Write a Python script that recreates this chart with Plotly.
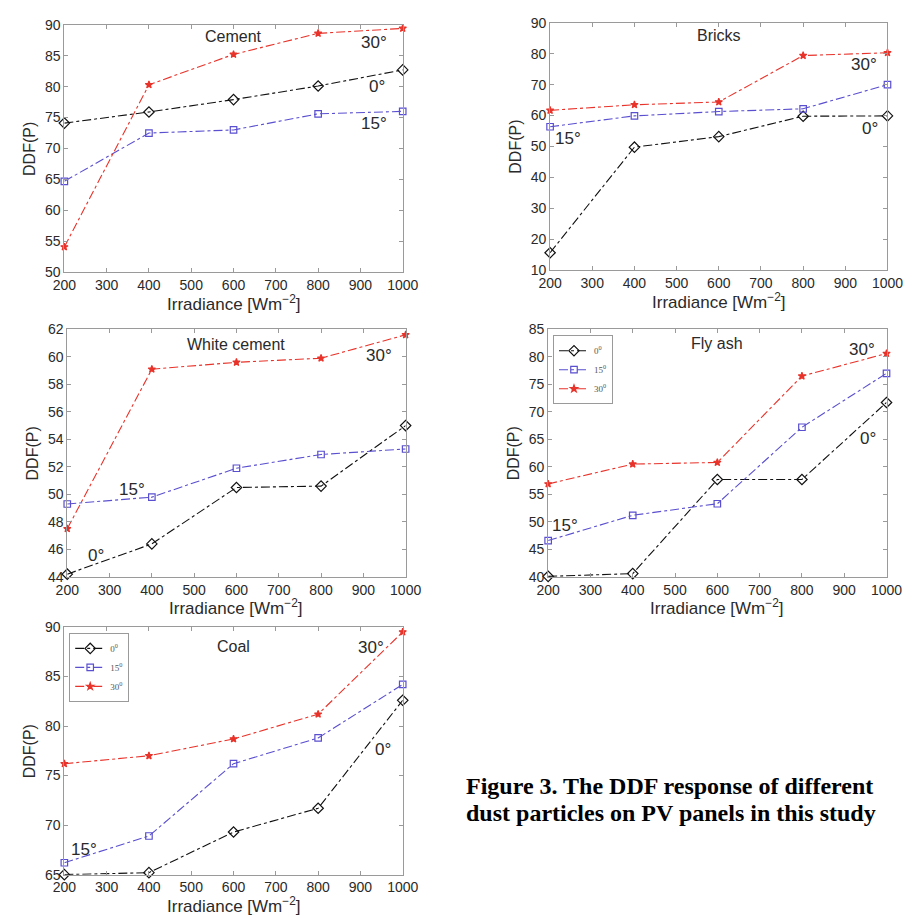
import plotly.graph_objects as go

W, H = 919, 918

irradiance = [200, 400, 600, 800, 1000]
x_ticks = [200, 300, 400, 500, 600, 700, 800, 900, 1000]

cement_0 = [74.1, 75.9, 77.9, 80.1, 82.7]
cement_15 = [64.7, 72.5, 73.0, 75.6, 76.0]
cement_30 = [54.1, 80.3, 85.2, 88.6, 89.4]

bricks_0 = [15.7, 49.8, 53.2, 59.8, 59.9]
bricks_15 = [56.4, 59.9, 61.3, 62.2, 70.0]
bricks_30 = [61.7, 63.5, 64.4, 79.4, 80.3]

white_0 = [44.2, 46.4, 50.5, 50.6, 55.0]
white_15 = [49.3, 49.8, 51.9, 52.9, 53.3]
white_30 = [47.5, 59.1, 59.6, 59.9, 61.6]

flyash_0 = [40.1, 40.6, 57.7, 57.7, 71.7]
flyash_15 = [46.6, 51.2, 53.3, 67.2, 77.0]
flyash_30 = [56.9, 60.5, 60.8, 76.5, 80.6]

coal_0 = [65.0, 65.2, 69.3, 71.7, 82.6]
coal_15 = [66.2, 68.9, 76.2, 78.8, 84.2]
coal_30 = [76.2, 77.0, 78.7, 81.2, 89.5]

angle_names = ["0<sup>0</sup>", "15<sup>0</sup>", "30<sup>0</sup>"]
angle_labels = ["0°", "15°", "30°"]

SANS = "Liberation Sans, Arial, Helvetica, sans-serif"
SERIF = "Liberation Serif, Times New Roman, serif"
TXT = "#2a2a2a"
AX = "#9a9a9a"

series_style = [
    dict(color="#111111", symbol="diamond-open", size=8),
    dict(color="#5a4fcf", symbol="square-open", size=6.5),
    dict(color="#e8332a", symbol="star", size=5.5),
]

# panel: title, series, yrange, dtick, box (l, r, top, bottom px), title offset,
# label positions (px) for 0,15,30, legend id
panels = [
    dict(title="Cement", ys=[cement_0, cement_15, cement_30], yr=[50, 90], dt=5,
         box=(54, 403, 17, 269), toff=12,
         lab=[(376, 80), (373, 118), (373, 35)], legend=None),
    dict(title="Bricks", ys=[bricks_0, bricks_15, bricks_30], yr=[10, 90], dt=10,
         box=(555, 903, 15, 267), toff=13,
         lab=[(885, 123), (573, 133), (879, 58)], legend=None),
    dict(title="White cement", ys=[white_0, white_15, white_30], yr=[44, 62], dt=2,
         box=(57, 406, 327, 579), toff=15,
         lab=[(87, 557), (124, 490), (379, 354)], legend=None),
    dict(title="Fly ash", ys=[flyash_0, flyash_15, flyash_30], yr=[40, 85], dt=5,
         box=(553, 902, 327, 579), toff=14,
         lab=[(883, 438), (570, 527), (877, 348)], legend="legend"),
    dict(title="Coal", ys=[coal_0, coal_15, coal_30], yr=[65, 90], dt=5,
         box=(54, 403, 630, 882), toff=20,
         lab=[(383, 755), (74, 856), (370, 651)], legend="legend2"),
]


def px(x):
    return x / W


def py(y):
    return 1 - y / H


fig = go.Figure()
annotations = []
layout_axes = {}

for i, p in enumerate(panels):
    n = i + 1
    xa = "x" if n == 1 else f"x{n}"
    ya = "y" if n == 1 else f"y{n}"
    l, r, t, b = p["box"]
    for k, ys in enumerate(p["ys"]):
        st = series_style[k]
        tr = dict(
            x=irradiance, y=ys, xaxis=xa, yaxis=ya, mode="lines+markers",
            name=angle_names[k], cliponaxis=False,
            line=dict(color=st["color"], width=1.1, dash="dashdot"),
            marker=dict(symbol=st["symbol"], size=st["size"], color=st["color"],
                        line=dict(color=st["color"], width=1.2)),
            showlegend=p["legend"] is not None,
        )
        if p["legend"] is not None:
            tr["legend"] = p["legend"]
        fig.add_trace(go.Scatter(**tr))

    axcommon = dict(
        showgrid=False, zeroline=False, showline=True, linecolor=AX, linewidth=1,
        mirror="ticks", ticks="inside", ticklen=4, tickcolor=AX,
        tickfont=dict(family=SANS, size=14, color=TXT),
    )
    layout_axes["xaxis" if n == 1 else f"xaxis{n}"] = dict(
        domain=[px(l), px(r)], anchor=ya, range=[200, 1000],
        tickmode="array", tickvals=x_ticks, ticktext=[str(v) for v in x_ticks],
        **axcommon,
    )
    layout_axes["yaxis" if n == 1 else f"yaxis{n}"] = dict(
        domain=[py(b), py(t)], anchor=xa, range=p["yr"], dtick=p["dt"],
        tick0=p["yr"][0], **axcommon,
    )
    # panel title
    annotations.append(dict(
        text=p["title"], x=px((l + r) / 2), y=py(t + p["toff"]), xref="paper", yref="paper",
        showarrow=False, xanchor="center", yanchor="middle",
        font=dict(family=SANS, size=16, color=TXT)))
    # x title
    annotations.append(dict(
        text="Irradiance [Wm<sup>−2</sup>]", x=px((l + r) / 2), y=py(b + 31),
        xref="paper", yref="paper", showarrow=False, xanchor="center", yanchor="middle",
        font=dict(family=SANS, size=17, color=TXT)))
    # y title
    annotations.append(dict(
        text="DDF(P)", x=px(l - 36), y=py((t + b) / 2), xref="paper", yref="paper",
        showarrow=False, xanchor="center", yanchor="middle", textangle=-90,
        font=dict(family=SANS, size=16, color=TXT)))
    # angle labels
    for k, (lx, ly) in enumerate(p["lab"]):
        annotations.append(dict(
            text=angle_labels[k], x=px(lx), y=py(ly), xref="paper", yref="paper",
            showarrow=False, xanchor="center", yanchor="middle",
            font=dict(family=SANS, size=17, color=TXT)))

# caption
annotations.append(dict(
    text="Figure 3. The DDF response of different", x=px(466), y=py(792),
    xref="paper", yref="paper", showarrow=False, xanchor="left", yanchor="middle",
    font=dict(family=SERIF, size=24, color="#000000", weight="bold")))
annotations.append(dict(
    text="dust particles on PV panels in this study", x=px(466), y=py(819),
    xref="paper", yref="paper", showarrow=False, xanchor="left", yanchor="middle",
    font=dict(family=SERIF, size=24, color="#000000", weight="bold")))

legend_common = dict(
    bgcolor="white", bordercolor=AX, borderwidth=1,
    font=dict(family=SERIF, size=9, color="#555555"),
    xanchor="left", yanchor="top", tracegroupgap=0, itemwidth=30,
)

fig.update_layout(
    width=W, height=H, margin=dict(l=0, r=0, t=0, b=0),
    paper_bgcolor="white", plot_bgcolor="white",
    annotations=annotations,
    legend=dict(x=px(558), y=py(333), **legend_common),
    legend2=dict(x=px(59), y=py(636), **legend_common),
    **layout_axes,
)

fig.write_html("out.html")
